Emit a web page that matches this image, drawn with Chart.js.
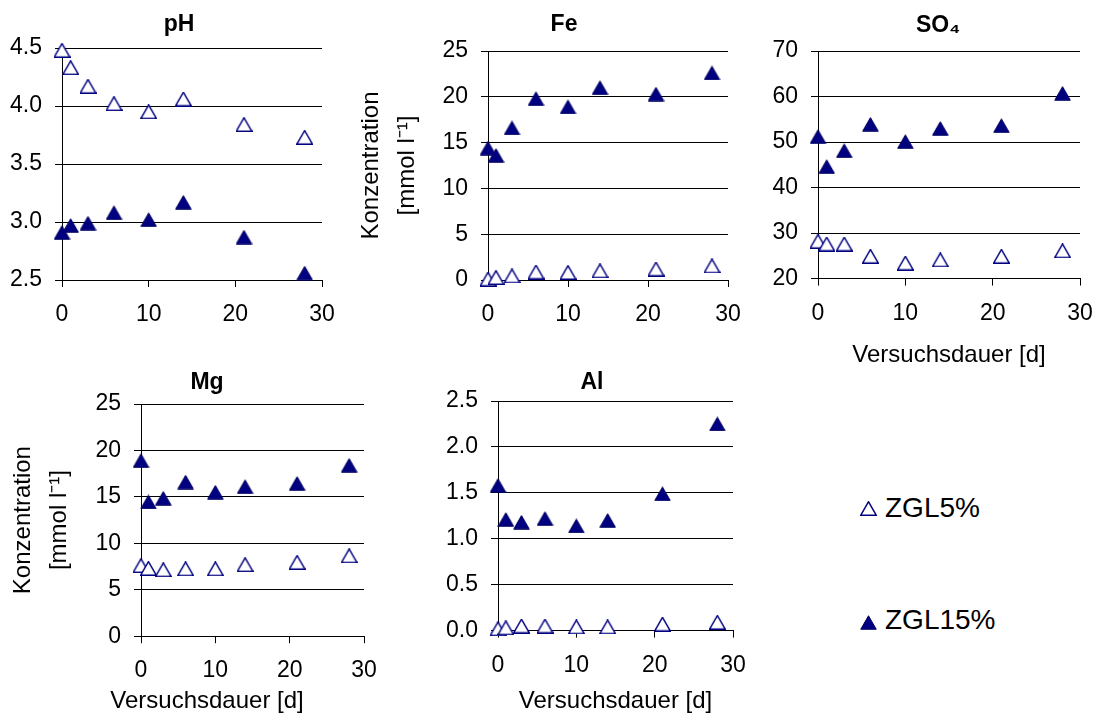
<!DOCTYPE html>
<html>
<head>
<meta charset="utf-8">
<script src="https://cdn.jsdelivr.net/npm/chart.js@4/dist/chart.umd.min.js"></script>
<style>
  html, body { margin: 0; padding: 0; background: #fff; width: 1100px; height: 716px; overflow: hidden; }
  .box { position: absolute; }
  .leg-text { position: absolute; font: 28px "Liberation Sans", Arial, sans-serif; line-height: 28px; color: #000; white-space: nowrap; }
  .leg-mark { position: absolute; }
</style>
</head>
<body>
<div class="box" style="left:0;top:0"><canvas id="phChart" width="358" height="330"></canvas></div>
<div class="box" style="left:345px;top:0"><canvas id="feChart" width="438" height="330"></canvas></div>
<div class="box" style="left:760px;top:0"><canvas id="so4Chart" width="356" height="370"></canvas></div>
<div class="box" style="left:0;top:355px"><canvas id="mgChart" width="414" height="364"></canvas></div>
<div class="box" style="left:420px;top:355px"><canvas id="alChart" width="344" height="361"></canvas></div>

<svg class="leg-mark" style="left:860px;top:501px" width="17" height="15"><polygon points="0.75,14.25 16.25,14.25 8.5,0.75" fill="#fff" stroke="#000080" stroke-width="1.5"/></svg>
<div class="leg-text" style="left:885px;top:494px">ZGL5%</div>
<svg class="leg-mark" style="left:860px;top:615px" width="17" height="15"><polygon points="0.75,14.25 16.25,14.25 8.5,0.75" fill="#000080" stroke="#000060" stroke-width="1"/></svg>
<div class="leg-text" style="left:885px;top:606px">ZGL15%</div>

<script>
  const FONT = '"Liberation Sans", Arial, sans-serif';
  const days = [0, 1, 3, 6, 10, 14, 21, 28];
  const seriesNames = ['ZGL5%', 'ZGL15%'];
  const dayTicks = [0, 10, 20, 30];

  const phZgl5 = [4.48, 4.33, 4.17, 4.02, 3.95, 4.06, 3.84, 3.73];
  const phZgl15 = [2.91, 2.97, 2.99, 3.08, 3.02, 3.17, 2.87, 2.56];
  const phTicks = [2.5, 3.0, 3.5, 4.0, 4.5];

  const feZgl5 = [0.1, 0.27, 0.44, 0.87, 0.82, 1.0, 1.2, 1.53];
  const feZgl15 = [14.4, 13.6, 16.6, 19.8, 18.9, 21.0, 20.3, 22.6];
  const feTicks = [0, 5, 10, 15, 20, 25];

  const so4Zgl5 = [28.2, 27.6, 27.6, 24.9, 23.4, 24.1, 24.9, 26.1];
  const so4Zgl15 = [51.2, 44.6, 48.1, 53.9, 50.1, 53.0, 53.6, 60.7];
  const so4Ticks = [20, 30, 40, 50, 60, 70];

  const mgZgl5 = [7.6, 7.3, 7.15, 7.25, 7.25, 7.7, 7.95, 8.65];
  const mgZgl15 = [18.9, 14.45, 14.85, 16.6, 15.5, 16.1, 16.45, 18.4];
  const mgTicks = [0, 5, 10, 15, 20, 25];

  const alZgl5 = [0.02, 0.03, 0.05, 0.05, 0.04, 0.04, 0.07, 0.09];
  const alZgl15 = [1.58, 1.21, 1.18, 1.22, 1.14, 1.2, 1.49, 2.25];
  const alTicks = [0.0, 0.5, 1.0, 1.5, 2.0, 2.5];

  const yLabel = ['Konzentration', '[mmol l\u207B\u00B9]'];
  const xLabel = 'Versuchsdauer [d]';

  // triangle markers, bbox-centred like the original
  function triangle(filled) {
    const c = document.createElement('canvas');
    c.width = 17; c.height = 15;
    const ctx = c.getContext('2d');
    ctx.beginPath();
    ctx.moveTo(0.75, 14.25);
    ctx.lineTo(16.25, 14.25);
    ctx.lineTo(8.5, 0.75);
    ctx.closePath();
    ctx.fillStyle = filled ? '#000080' : '#ffffff';
    ctx.fill();
    ctx.lineWidth = filled ? 1 : 1.5;
    ctx.strokeStyle = filled ? '#000060' : '#000080';
    ctx.stroke();
    return c;
  }
  const openTri = triangle(false);
  const fullTri = triangle(true);

  function pts(values) {
    return values.map((v, i) => ({ x: days[i], y: v }));
  }

  function makeChart(id, cfg) {
    const ticks = cfg.ticks;
    const yScale = {
      type: 'linear',
      min: ticks[0],
      max: ticks[ticks.length - 1],
      ticks: {
        stepSize: ticks[1] - ticks[0],
        padding: 13,
        color: '#000',
        font: { family: FONT, size: 23 },
        callback: (v) => (cfg.decimals ? Number(v).toFixed(cfg.decimals) : String(v))
      },
      grid: { color: '#000', lineWidth: 1, tickLength: 7, drawTicks: true },
      border: { display: true, color: '#000', width: 1 },
      afterFit: (s) => { s.width = cfg.yWidth; }
    };
    if (cfg.yTitle) {
      yScale.title = {
        display: true,
        text: yLabel,
        color: '#000',
        font: { family: FONT, size: 24, lineHeight: 1.5 },
        padding: { top: cfg.yTitlePad, bottom: 0 }
      };
    }
    const xScale = {
      type: 'linear',
      min: dayTicks[0],
      max: dayTicks[dayTicks.length - 1],
      ticks: {
        stepSize: dayTicks[1] - dayTicks[0],
        padding: 14,
        color: '#000',
        maxRotation: 0,
        font: { family: FONT, size: 23 }
      },
      grid: { drawOnChartArea: false, drawTicks: true, tickLength: 7, color: '#000' },
      border: { display: true, color: '#000', width: 1 },
      afterFit: (s) => { s.height = cfg.xHeight; }
    };
    if (cfg.xTitle) {
      xScale.title = {
        display: true,
        text: xLabel,
        color: '#000',
        font: { family: FONT, size: 24 },
        padding: { top: 0, bottom: 0 }
      };
    }
    // empty right-hand box: keeps the plot narrow while the title stays centred on the canvas
    const spacer = {
      type: 'linear',
      position: 'right',
      display: true,
      ticks: { display: false },
      grid: { display: false },
      border: { display: false },
      afterFit: (s) => { s.width = cfg.rightWidth; }
    };

    return new Chart(document.getElementById(id), {
      type: 'scatter',
      data: {
        datasets: [
          { label: seriesNames[0], data: pts(cfg.a), pointStyle: openTri, pointRadius: 8, clip: false },
          { label: seriesNames[1], data: pts(cfg.b), pointStyle: fullTri, pointRadius: 8, clip: false }
        ]
      },
      options: {
        responsive: false,
        animation: false,
        devicePixelRatio: 1,
        layout: { padding: 0 },
        scales: { x: xScale, y: yScale, spacer: spacer },
        plugins: {
          legend: { display: false },
          tooltip: { enabled: false },
          title: {
            display: true,
            text: cfg.title,
            color: '#000',
            font: { family: FONT, size: 23, weight: 'bold' },
            padding: { top: cfg.titlePad[0], bottom: cfg.titlePad[1] }
          },
          subtitle: {
            display: !!cfg.subTitle,
            position: 'bottom',
            text: xLabel,
            color: '#000',
            font: { family: FONT, size: 24 },
            padding: { top: 1, bottom: 3 }
          }
        }
      }
    });
  }

  makeChart('phChart', {
    title: 'pH', a: phZgl5, b: phZgl15, ticks: phTicks, decimals: 1,
    yWidth: 62, xHeight: 50, rightWidth: 36, titlePad: [11.2, 9.2]
  });
  makeChart('feChart', {
    title: 'Fe', a: feZgl5, b: feZgl15, ticks: feTicks,
    yWidth: 143, yTitle: true, yTitlePad: 8, xHeight: 50, rightWidth: 55, titlePad: [11.2, 12.2]
  });
  makeChart('so4Chart', {
    title: 'SO\u2084', a: so4Zgl5, b: so4Zgl15, ticks: so4Ticks,
    yWidth: 58, xHeight: 91.4, xTitle: true, rightWidth: 36, titlePad: [12.2, 11.2]
  });
  makeChart('mgChart', {
    title: 'Mg', a: mgZgl5, b: mgZgl15, ticks: mgTicks,
    yWidth: 141, yTitle: true, yTitlePad: 5.5, xHeight: 50, subTitle: true, rightWidth: 50, titlePad: [14.2, 7.2]
  });
  makeChart('alChart', {
    title: 'Al', a: alZgl5, b: alZgl15, ticks: alTicks, decimals: 1,
    yWidth: 78, xHeight: 85.4, xTitle: true, rightWidth: 31, titlePad: [14.2, 4.2]
  });
</script>
</body>
</html>
